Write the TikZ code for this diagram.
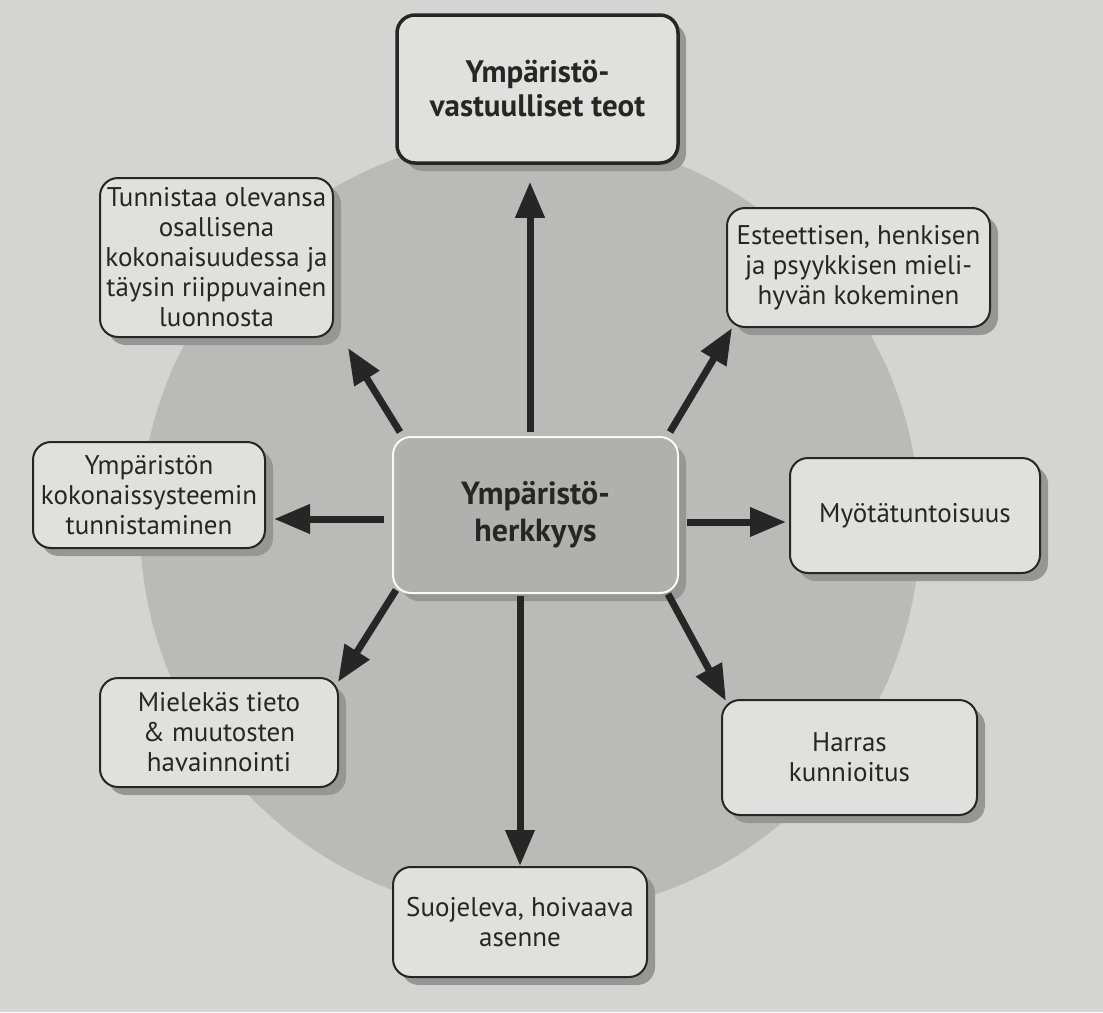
\documentclass[tikz,border=0pt]{standalone}
\usepackage{fontspec}
\setmainfont{PT Sans}[Ligatures={NoCommon,NoRare}]
\usetikzlibrary{arrows.meta,shadows}
\definecolor{paper}{RGB}{212,212,210}
\definecolor{disk}{RGB}{186,186,184}
\definecolor{boxfill}{RGB}{224,224,222}
\definecolor{centerfill}{RGB}{176,176,174}
\definecolor{ink}{RGB}{38,38,38}
\definecolor{shade}{RGB}{150,150,148}
\tikzset{
  pbox/.style={draw=ink, line width=2pt, fill=boxfill, rounded corners=18pt,
    align=center, text=ink, inner sep=0pt,
    font=\fontsize{27}{30}\selectfont,
    drop shadow={shadow xshift=8pt, shadow yshift=-8pt, fill=shade, opacity=1}},
  arr/.style={draw=ink, line width=7pt, -{Triangle[length=36pt,width=28pt]}},
}
\begin{document}
\begin{tikzpicture}[x=1pt,y=-1pt]
\useasboundingbox (0,0) rectangle (1103,1012);
\fill[paper] (0,0) rectangle (1103,1012);
\fill[disk] (530,525) circle (390);

\node[pbox, line width=3.5pt, minimum width=281pt, minimum height=148pt,
  font=\bfseries\fontsize{31}{34}\selectfont] (top) at (537.5,89) {Ympäristö-\\vastuulliset teot};
\node[pbox, draw=white!85!paper, fill=centerfill, line width=2pt, minimum width=285pt, minimum height=156pt,
  font=\bfseries\fontsize{32}{37}\selectfont, drop shadow={opacity=0}] (c) at (535.5,515) {Ympäristö-\\herkkyys};
\node[pbox, minimum width=233pt, minimum height=159pt] (tl) at (216.5,257.5)
  {Tunnistaa olevansa\\osallisena\\kokonaisuudessa ja\\täysin riippuvainen\\luonnosta};
\node[pbox, minimum width=263pt, minimum height=119pt] (tr) at (858.5,267.5)
  {Esteettisen, henkisen\\ja psyykkisen mieli-\\hyvän kokeminen};
\node[pbox, minimum width=232pt, minimum height=106pt] (l) at (149,495)
  {Ympäristön\\kokonaissysteemin\\tunnistaminen};
\node[pbox, minimum width=250pt, minimum height=115pt] (r) at (915,515.5)
  {Myötätuntoisuus};
\node[pbox, minimum width=238pt, minimum height=109pt] (bl) at (219,732.5)
  {Mielekäs tieto\\\& muutosten\\havainnointi};
\node[pbox, minimum width=255pt, minimum height=115pt] (br) at (849.5,757.5)
  {Harras\\kunnioitus};
\node[pbox, minimum width=254pt, minimum height=110pt] (b) at (520,922)
  {Suojeleva, hoivaava\\asenne};

\coordinate (s-up) at (530,432);
\coordinate (s-ul) at (400,432);
\coordinate (s-ur) at (670,432);
\coordinate (s-l)  at (384,519);
\coordinate (s-r)  at (687,522);
\coordinate (s-dl) at (396,590);
\coordinate (s-dr) at (668,594);
\coordinate (s-d)  at (520,596);

\draw[arr] (s-up) -- ([yshift=-17pt]top.south -| s-up);
\draw[arr] (s-ul) -- ([shift={(14pt,-10pt)}]tl.south east);
\draw[arr] (s-ur) -- ([shift={(6pt,0pt)}]tr.south west);
\draw[arr] (s-l)  -- ([xshift=8pt]l.east |- s-l);
\draw[arr] (s-r)  -- ([xshift=-3pt]r.west |- s-r);
\draw[arr] (s-dl) -- ([shift={(-1pt,-5pt)}]bl.north east);
\draw[arr] (s-dr) -- ([shift={(5pt,-2pt)}]br.north west);
\draw[arr] (s-d)  -- (b.north -| s-d);
\end{tikzpicture}
\end{document}
